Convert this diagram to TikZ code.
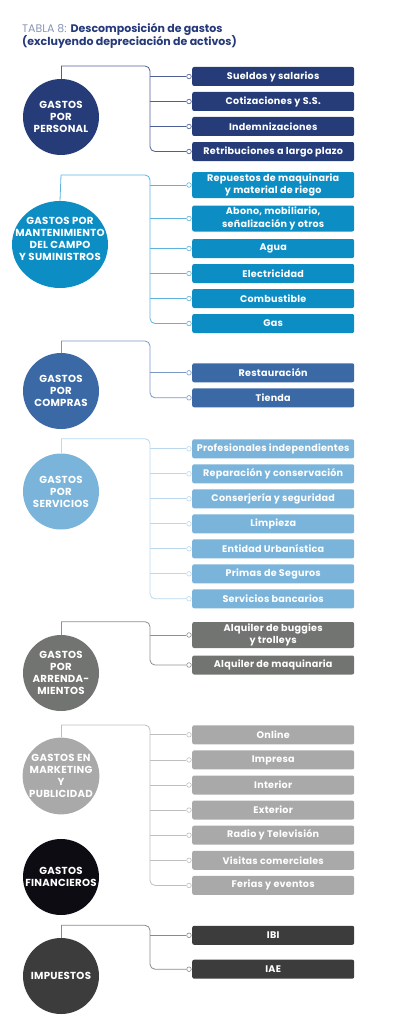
\documentclass[tikz,border=0pt]{standalone}
\usepackage{fontspec}
\setmainfont{Poppins}
\newfontfamily\bxfont{Poppins}[LetterSpace=2.5]
\newfontfamily\crfont{Poppins}[LetterSpace=2.5]
\usetikzlibrary{shapes.geometric}
\definecolor{ttl}{HTML}{26397A}
\definecolor{ttlL}{HTML}{8A95B5}
\definecolor{gA}{HTML}{263C78}\definecolor{lA}{HTML}{4F6096}
\definecolor{gB}{HTML}{0C8EC5}\definecolor{lB}{HTML}{5DB3DD}
\definecolor{gC}{HTML}{3A69A6}\definecolor{lC}{HTML}{7A97C4}
\definecolor{gD}{HTML}{7AB4DA}\definecolor{lD}{HTML}{B9D8EE}
\definecolor{gE}{HTML}{727471}\definecolor{lE}{HTML}{8E908D}
\definecolor{gF}{HTML}{A8A9A8}\definecolor{lF}{HTML}{BEBFBE}
\definecolor{gG}{HTML}{0C0C12}
\definecolor{gH}{HTML}{3C3C3C}\definecolor{lH}{HTML}{8A8A8A}
\newcommand\bxrow[5]{%
  \node[bx,fill=#3] (#1) at (192,#2) {#5};
  \node[dot,draw=#4] (#1d) at ([xshift=-3]#1.west) {};}
\newcommand\brn[3]{\draw[ln,#3] (#1 |- #2d) -- (#2d);}
\begin{document}
\begin{tikzpicture}[x=1pt,y=-1pt,
  circ/.style={circle,inner sep=0,minimum size=76,text=white,align=center,
    font=\crfont\fontsize{10.2}{12}\selectfont\bfseries},
  bx/.style={rectangle,rounded corners=2,minimum width=162,minimum height=19,
    anchor=west,text=white,align=center,inner sep=0,
    font=\bxfont\fontsize{9.6}{12.7}\selectfont\bfseries},
  dot/.style={circle,fill=white,inner sep=0,minimum size=4.6,line width=0.6},
  ln/.style={line width=0.8},
  spine/.style={ln,rounded corners=5}]
\useasboundingbox (0,0) rectangle (405,1022);
% title
\node[anchor=base west,inner sep=0,font=\fontsize{11}{13}\selectfont] (t1) at (22,32.3)
  {\textcolor{ttlL}{TABLA 8:} \textcolor{ttl}{\bfseries Descomposición de gastos}};
\node[anchor=base west,inner sep=0,font=\fontsize{11}{13}\selectfont\bfseries,text=ttl] (t2) at (22,45.5)
  {(excluyendo depreciación de activos)};
% ---------- group A
\node[circ,fill=gA] (cA) at (61,117) {GASTOS\\POR\\PERSONAL};
\bxrow{a1}{76.5}{gA}{lA}{Sueldos y salarios}
\bxrow{a2}{101.5}{gA}{lA}{Cotizaciones y S.S.}
\bxrow{a3}{126.5}{gA}{lA}{Indemnizaciones}
\bxrow{a4}{151.5}{gA}{lA}{Retribuciones a largo plazo}
\coordinate (tA) at (61,66); \coordinate (sA) at (150,66);
\draw[ln,lA] (cA.north) -- (tA);
\draw[spine,lA] (tA) -- (sA) -- (sA |- a4d) -- (a4d);
\brn{sA}{a1}{lA}\brn{sA}{a2}{lA}\brn{sA}{a3}{lA}
% ---------- group B
\node[ellipse,fill=gB,inner sep=0,minimum width=96,minimum height=87] (cB) at (60,244.5) {};
\node[text=white,align=center,inner sep=0,font=\crfont\fontsize{10.2}{12}\selectfont\bfseries] (cBt) at (60,239)
  {GASTOS POR\\MANTENIMIENTO\\DEL CAMPO\\Y SUMINISTROS};
\node[bx,fill=gB,minimum height=26] (b1) at (192,185) {Repuestos de maquinaria\\y material de riego};
\node[dot,draw=lB] (b1d) at ([xshift=-3]b1.west) {};
\node[bx,fill=gB,minimum height=26] (b2) at (192,218.5) {Abono, mobiliario,\\señalización y otros};
\node[dot,draw=lB] (b2d) at ([xshift=-3]b2.west) {};
\bxrow{b3}{248.5}{gB}{lB}{Agua}
\bxrow{b4}{273.5}{gB}{lB}{Electricidad}
\bxrow{b5}{298.5}{gB}{lB}{Combustible}
\bxrow{b6}{323.5}{gB}{lB}{Gas}
\coordinate (tB) at (61,175); \coordinate (sB) at (150,175);
\draw[ln,lB] (cB.north) -- (tB);
\draw[spine,lB] (tB) -- (sB) -- (sB |- b6d) -- (b6d);
\brn{sB}{b1}{lB}\brn{sB}{b2}{lB}\brn{sB}{b3}{lB}\brn{sB}{b4}{lB}\brn{sB}{b5}{lB}
% ---------- group C
\node[circ,fill=gC] (cC) at (61,391) {GASTOS\\POR\\COMPRAS};
\bxrow{c1}{372.8}{gC}{lC}{Restauración}
\bxrow{c2}{397.8}{gC}{lC}{Tienda}
\coordinate (tC) at (61,341); \coordinate (sC) at (150,341);
\draw[ln,lC] (cC.north) -- (tC);
\draw[spine,lC] (tC) -- (sC) -- (sC |- c2d) -- (c2d);
\brn{sC}{c1}{lC}
% ---------- group D
\node[circ,fill=gD] (cD) at (61,491.5) {GASTOS\\POR\\SERVICIOS};
\bxrow{d1}{448.8}{gD}{lD}{Profesionales independientes}
\bxrow{d2}{473.8}{gD}{lD}{Reparación y conservación}
\bxrow{d3}{498.8}{gD}{lD}{Conserjería y seguridad}
\bxrow{d4}{523.8}{gD}{lD}{Limpieza}
\bxrow{d5}{548.8}{gD}{lD}{Entidad Urbanística}
\bxrow{d6}{573.8}{gD}{lD}{Primas de Seguros}
\bxrow{d7}{598.8}{gD}{lD}{Servicios bancarios}
\coordinate (tD) at (61,438.7); \coordinate (sD) at (150,438.7);
\draw[ln,lD] (cD.north) -- (tD);
\draw[spine,lD] (tD) -- (sD) -- (sD |- d7d) -- (d7d);
\brn{sD}{d1}{lD}\brn{sD}{d2}{lD}\brn{sD}{d3}{lD}\brn{sD}{d4}{lD}\brn{sD}{d5}{lD}\brn{sD}{d6}{lD}
% ---------- group E
\node[circ,fill=gE] (cE) at (61,673) {GASTOS\\POR\\ARRENDA-\\MIENTOS};
\node[bx,fill=gE,minimum height=26] (e1) at (192,635) {Alquiler de buggies\\y trolleys};
\node[dot,draw=lE] (e1d) at ([xshift=-3]e1.west) {};
\bxrow{e2}{665}{gE}{lE}{Alquiler de maquinaria}
\coordinate (tE) at (61,621.7); \coordinate (sE) at (150,621.7);
\draw[ln,lE] (cE.north) -- (tE);
\draw[spine,lE] (tE) -- (sE) -- (sE |- e2d) -- (e2d);
\brn{sE}{e1}{lE}
% ---------- group F
\node[circ,fill=gF] (cF) at (61,776) {GASTOS EN\\MARKETING\\Y\\PUBLICIDAD};
\bxrow{f1}{734.8}{gF}{lF}{Online}
\bxrow{f2}{759.9}{gF}{lF}{Impresa}
\bxrow{f3}{785.0}{gF}{lF}{Interior}
\bxrow{f4}{810.1}{gF}{lF}{Exterior}
\bxrow{f5}{835.2}{gF}{lF}{Radio y Televisión}
\bxrow{f6}{860.3}{gF}{lF}{Visitas comerciales}
\bxrow{f7}{885.4}{gF}{lF}{Ferias y eventos}
\coordinate (tF) at (61,725); \coordinate (sF) at (150,725);
\draw[ln,lF] (cF.north) -- (tF);
\draw[spine,lF] (tF) -- (sF) -- (sF |- f7d) -- (f7d);
\brn{sF}{f1}{lF}\brn{sF}{f2}{lF}\brn{sF}{f3}{lF}\brn{sF}{f4}{lF}\brn{sF}{f5}{lF}\brn{sF}{f6}{lF}
% ---------- group G
\node[circ,fill=gG] (cG) at (61,877) {GASTOS\\FINANCIEROS};
% ---------- group H
\node[circ,fill=gH] (cH) at (61,976) {IMPUESTOS};
\bxrow{h1}{935.3}{gH}{lH}{IBI}
\bxrow{h2}{969.2}{gH}{lH}{IAE}
\coordinate (tH) at (61,925.3); \coordinate (sH) at (150,925.3);
\draw[ln,lH] (cH.north) -- (tH);
\draw[spine,lH] (tH) -- (sH) -- (sH |- h2d) -- (h2d);
\brn{sH}{h1}{lH}
\end{tikzpicture}
\end{document}
